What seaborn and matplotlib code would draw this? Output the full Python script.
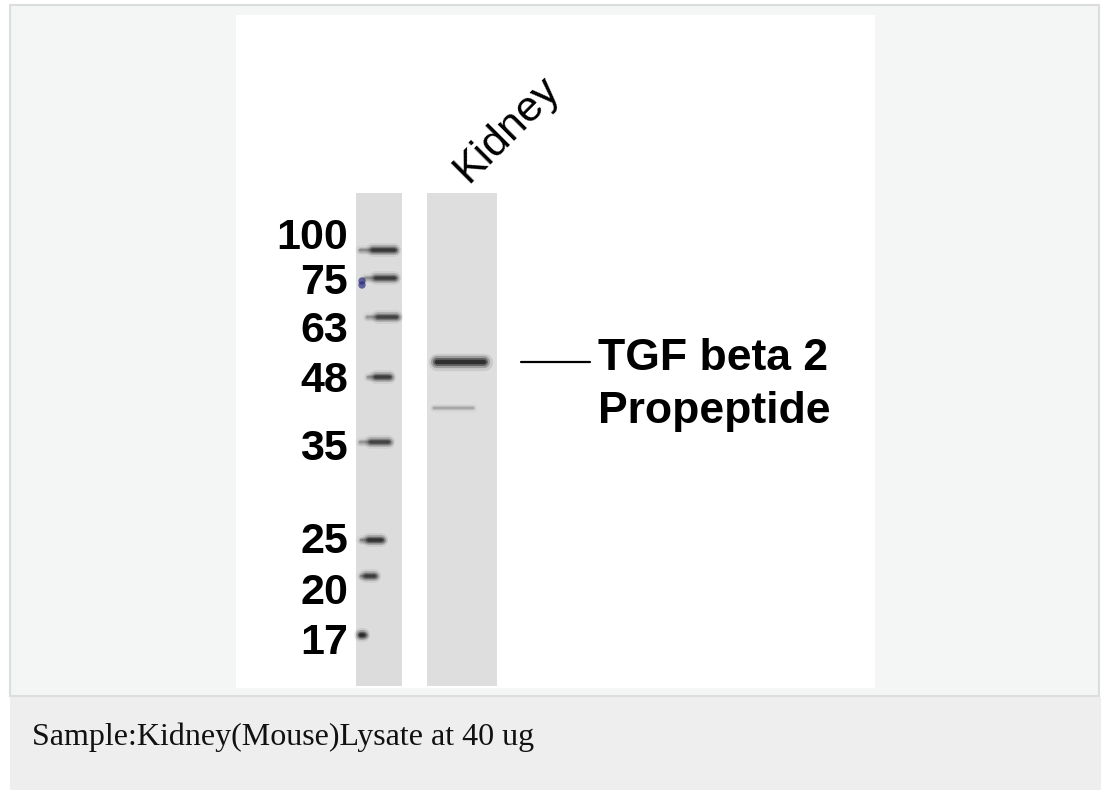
import numpy as np
import pandas as pd
import matplotlib
matplotlib.use("Agg")
import matplotlib.pyplot as plt
from matplotlib.patches import Rectangle
import seaborn as sns

# marker ladder (kDa) and where each band sits in the blot (pixel row)
marker_kda = [100, 75, 63, 48, 35, 25, 20, 17]
marker_band_row = [250, 278, 317, 377, 442, 540, 576, 635]
marker_strength = [0.70, 0.65, 0.60, 0.65, 0.60, 0.75, 0.65, 0.85]

# sample lane (Kidney) bands
sample_name = "Kidney"
sample_band_row = [362, 408]
sample_strength = [1.0, 0.2]
target_lines = ["TGF beta 2", "Propeptide"]
caption = "Sample:Kidney(Mouse)Lysate at 40 ug"

# layout (pixel coordinates of the source picture)
W, H = 1101, 790
label_row = [238, 283, 331, 381, 449, 542, 593, 643]
target_row = [358, 411]
marker_span = [(357, 398), (362, 398), (364, 400), (365, 393),
               (357, 392), (358, 385), (358, 378), (357, 367)]
sample_span = [(434, 487), (431, 476)]

sns.set_theme(style="white")
plt.rcParams["font.family"] = ["Liberation Sans", "DejaVu Sans"]

fig = plt.figure(figsize=(W / 100, H / 100), dpi=100)
fig.patch.set_facecolor("white")


def fig_rect(x0, y0, x1, y1, **kw):
    fig.patches.append(Rectangle((x0 / W, 1 - y1 / H), (x1 - x0) / W, (y1 - y0) / H,
                                 transform=fig.transFigure, zorder=0, **kw))


# outer panel, caption strip
fig_rect(10, 5, 1099, 696, facecolor="#f4f6f5", edgecolor="#dcdedd", linewidth=1.5)
fig_rect(10, 697, W, H, facecolor="#edeeed", edgecolor="none")
fig.text(32 / W, 1 - 737 / H, caption, family="Liberation Serif", fontsize=23,
         color="#111111", ha="left", va="center")

# white image area, data units = source pixels
ax = fig.add_axes([236 / W, 1 - 688 / H, (875 - 236) / W, (688 - 15) / H])
ax.set_zorder(2)
ax.set_facecolor("white")
ax.set_xticks([])
ax.set_yticks([])
for sp in ax.spines.values():
    sp.set_visible(False)

# lanes
ax.add_patch(Rectangle((356, 193), 46, 493, facecolor="#dcdcdc", edgecolor="none"))
ax.add_patch(Rectangle((427, 193), 70, 493, facecolor="#dedede", edgecolor="none"))


def draw_band(row, x0, x1, strength, thick):
    # soft halo then dark core
    for lw, a in [(thick * 2.4, 0.10), (thick * 1.7, 0.25), (thick * 1.1, 0.45), (thick * 0.6, 0.7)]:
        ax.hlines(row, x0, x1, colors="#1a1a1a", linewidth=lw,
                  alpha=a * strength, capstyle="round")


for row, (x0, x1), s in zip(marker_band_row, marker_span, marker_strength):
    draw_band(row, x0 + 3, x1 - 2, s * 0.45, 3.0)
    draw_band(row, x0 + (x1 - x0) * 0.4, x1 - 4, s, 4.2)

for row, (x0, x1), s in zip(sample_band_row, sample_span, sample_strength):
    draw_band(row, x0 + 3, x1 - 3, s, 5.2 if s > 0.5 else 2.6)

# blue smudge next to 75 kDa marker
blot = pd.DataFrame({"x": [362, 362], "y": [281, 285]})
sns.scatterplot(data=blot, x="x", y="y", ax=ax, s=28, color="#2a2a80",
                edgecolor="none", alpha=0.7, legend=False)
ax.set_xlabel("")
ax.set_ylabel("")
ax.set_xlim(236, 875)
ax.set_ylim(688, 15)

# marker labels
for kda, row in zip(marker_kda, label_row):
    ax.text(348, row, str(kda), fontsize=31, fontweight="bold", ha="right",
            va="center", color="black")

# lane name
ax.text(507, 129, sample_name, fontsize=31, rotation=45, rotation_mode="anchor",
        ha="center", va="center", color="black")

# target pointer and name
ax.plot([521, 590], [362, 362], color="black", linewidth=1.6)
for line, row in zip(target_lines, target_row):
    ax.text(598, row, line, fontsize=32, fontweight="bold", ha="left",
            va="center", color="black")

fig.savefig("out.png", dpi=100)
